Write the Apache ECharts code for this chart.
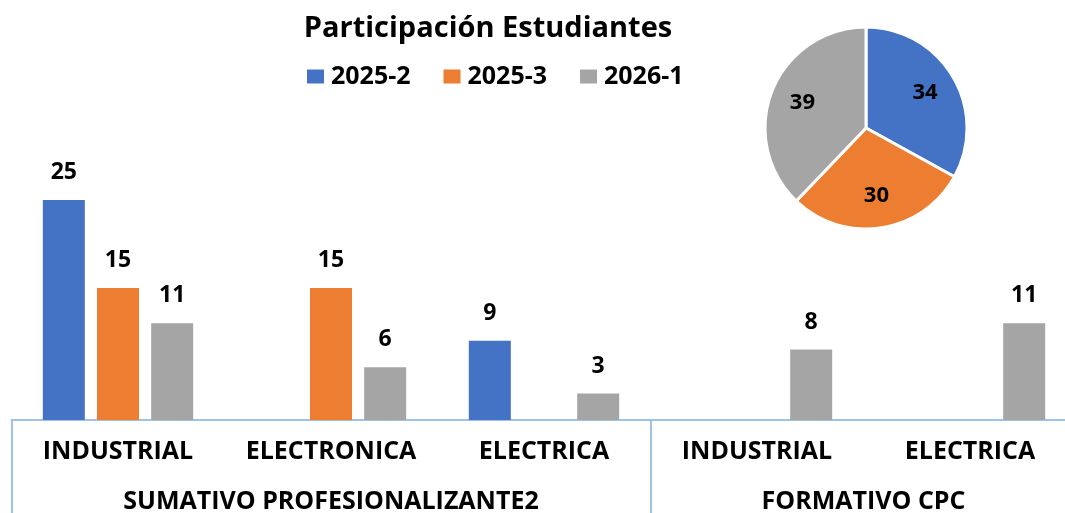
<!DOCTYPE html>
<html><head><meta charset="utf-8">
<script src="https://cdn.jsdelivr.net/npm/echarts@6/dist/echarts.min.js"></script>
<style>html,body{margin:0;padding:0;background:#fff}#c{width:1065px;height:513px}</style>
</head><body><div id="c"></div>
<script>
var categories = ['INDUSTRIAL', 'ELECTRONICA', 'ELECTRICA', 'INDUSTRIAL', 'ELECTRICA'];
var groupLabels = ['SUMATIVO PROFESIONALIZANTE2', 'FORMATIVO CPC'];
var groupSizes = [3, 2];
var seriesNames = ['2025-2', '2025-3', '2026-1'];
var s2025_2 = [25, null, 9, null, null];
var s2025_3 = [15, 15, null, null, null];
var s2026_1 = [11, 6, 3, 8, 11];
var pieValues = [34, 30, 39];
var colors = ['#4472C4', '#ED7D31', '#A5A5A5'];

// build half-slot point axis for group labels
var total = categories.length * 2;
var groupAxis = [];
for (var i = 0; i <= total; i++) groupAxis.push('');
var tickIdx = {0: true};
var pos = 0;
groupLabels.forEach(function (g, k) {
  groupAxis[pos + groupSizes[k]] = g;
  pos += groupSizes[k] * 2;
  tickIdx[pos] = true;
});

var FONT = 'Open Sans';
var chart = echarts.init(document.getElementById('c'));
var labelStyle = {show: true, position: 'top', distance: 16, fontFamily: FONT, fontWeight: 'bold', fontSize: 23, color: '#000'};
chart.setOption({
  animation: false,
  color: colors,
  title: {text: 'Participación Estudiantes', left: 483, top: 9, textAlign: 'center',
    textStyle: {fontFamily: FONT, fontWeight: 'bold', fontSize: 29, color: '#000'}},
  legend: {top: 59, left: 302, itemWidth: 17, itemHeight: 14, itemGap: 33, icon: 'rect',
    data: seriesNames,
    textStyle: {fontFamily: FONT, fontWeight: 'bold', fontSize: 25, color: '#000', padding: [0, 0, 0, 2]}},
  grid: {left: 11.5, right: -11.5, top: 156, bottom: 93, containLabel: false, outerBoundsMode: 'none'},
  xAxis: [{
    type: 'category', data: categories,
    axisLine: {show: true, lineStyle: {color: '#9DC3E6', width: 2}},
    axisTick: {show: false},
    axisLabel: {margin: 19, fontFamily: FONT, fontWeight: 'bold', fontSize: 25, color: '#000', interval: 0}
  }, {
    type: 'category', data: groupAxis, boundaryGap: false, position: 'bottom',
    axisLine: {show: false},
    axisTick: {show: true, length: 100, interval: function (idx) { return !!tickIdx[idx]; },
      lineStyle: {color: '#9DC3E6', width: 2}},
    axisLabel: {margin: 69, interval: function (idx, v) { return v !== ''; },
      fontFamily: FONT, fontWeight: 'bold', fontSize: 25, color: '#000'}
  }],
  yAxis: {type: 'value', min: 0, max: 30, show: false, splitLine: {show: false}},
  series: [
    {name: seriesNames[0], type: 'bar', data: s2025_2, barWidth: 42, barGap: '29%', label: labelStyle},
    {name: seriesNames[1], type: 'bar', data: s2025_3, barWidth: 42, barGap: '29%', label: labelStyle},
    {name: seriesNames[2], type: 'bar', data: s2026_1, barWidth: 42, barGap: '29%', label: labelStyle},
    {type: 'pie', center: [866, 128], radius: [0, 101], startAngle: 90, clockwise: true,
      itemStyle: {borderColor: '#fff', borderWidth: 3},
      label: {show: true, position: 'inside', formatter: '{c}', fontFamily: FONT, fontWeight: 'bold', fontSize: 22, color: '#000'},
      labelLayout: function (p) {
        var cx = p.labelRect.x + p.labelRect.width / 2 - 866;
        var cy = p.labelRect.y + p.labelRect.height / 2 - 128;
        var d = Math.sqrt(cx * cx + cy * cy) || 1;
        return {dx: cx / d * 15, dy: cy / d * 15};
      },
      data: pieValues.map(function (v, i) { return {name: seriesNames[i], value: v}; })}
  ]
});
</script></body></html>
